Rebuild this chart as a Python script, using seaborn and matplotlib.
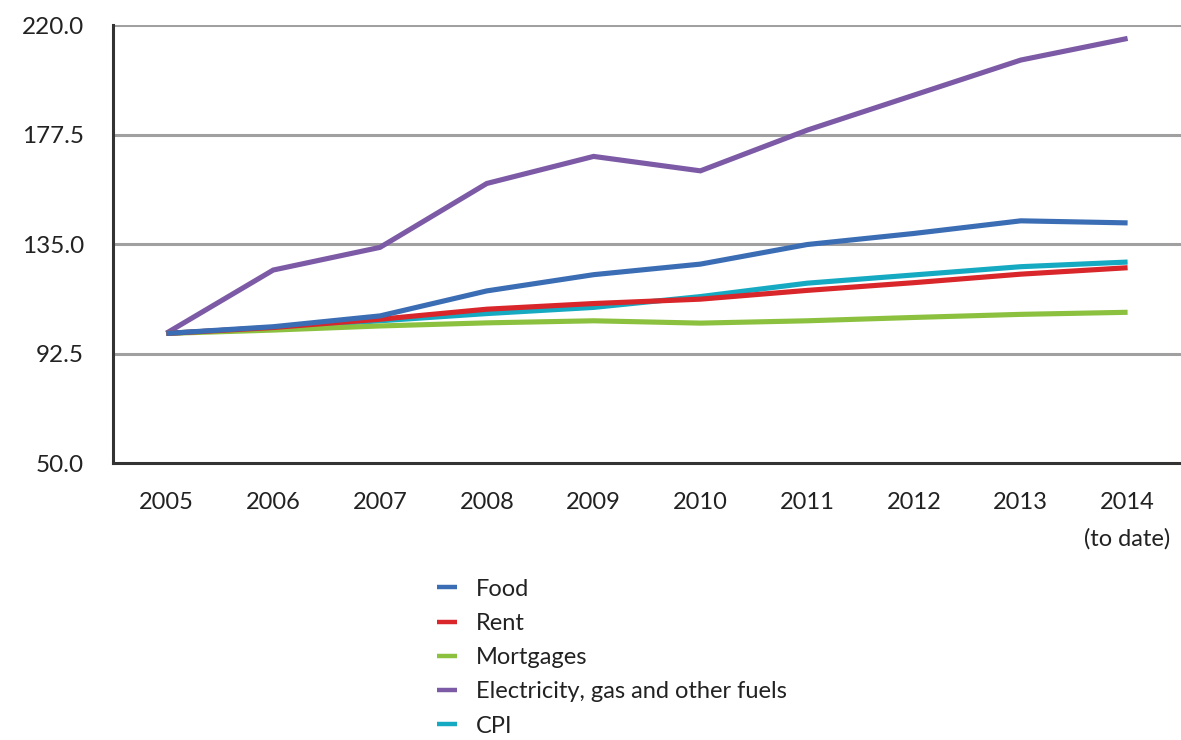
import numpy as np
import pandas as pd
import matplotlib
matplotlib.use("Agg")
import matplotlib.pyplot as plt
import seaborn as sns

# Index values by year (2005 = 100)
years = ["2005", "2006", "2007", "2008", "2009", "2010", "2011", "2012", "2013", "2014\n(to date)"]
food = [100.3, 102.9, 107.1, 116.8, 123.1, 127.2, 134.8, 139.1, 144.0, 143.2]
rent = [100.3, 102.6, 105.8, 109.7, 111.9, 113.6, 117.0, 120.0, 123.3, 125.8]
mortgages = [100.3, 101.6, 103.2, 104.4, 105.2, 104.3, 105.2, 106.5, 107.7, 108.5]
electricity = [100.4, 124.9, 133.7, 158.5, 169.0, 163.4, 179.2, 192.8, 206.4, 214.8]
cpi = [100.3, 102.5, 105.2, 108.0, 110.4, 114.6, 119.8, 123.0, 126.2, 128.0]

series_names = ["Food", "Rent", "Mortgages", "Electricity, gas and other fuels", "CPI"]
series_values = [food, rent, mortgages, electricity, cpi]
colors = ["#3B6DB5", "#D8262B", "#8CC13F", "#7D5AA6", "#16A9C2"]

y_ticks = [50.0, 92.5, 135.0, 177.5, 220.0]

rows = []
for name, vals in zip(series_names, series_values):
    for i, v in enumerate(vals):
        rows.append({"pos": i, "series": name, "value": v})
df = pd.DataFrame(rows)

sns.set_theme(style="white")
plt.rcParams["font.family"] = ["Lato", "DejaVu Sans"]

fig = plt.figure(figsize=(11.81, 7.40), dpi=100)
ax = fig.add_axes([0.0957, 0.3743, 0.9043, 0.5919])

sns.lineplot(data=df, x="pos", y="value", hue="series", hue_order=series_names,
             palette=colors, linewidth=3.7, legend=False, ax=ax,
             solid_capstyle="butt", solid_joinstyle="miter")

lines = ax.lines[:len(series_names)]
# Food drawn on top, CPI underneath
for k, ln in enumerate(lines):
    ln.set_zorder(10 - k)

ax.set_xlim(-0.5, len(years) - 0.5)
ax.set_ylim(50, 220)
ax.set_yticks(y_ticks)
ax.set_yticklabels([f"{t:.1f}" for t in y_ticks])
ax.set_xticks(np.arange(len(years)))
ax.set_xticklabels(years, linespacing=1.85, va="top")
ax.set_xticks(np.arange(-0.5, len(years) - 0.4, 1.0), minor=True)

ax.tick_params(axis="x", which="major", length=0, pad=21, labelsize=17, colors="#222222")
ax.tick_params(axis="x", which="minor", length=7, width=2, color="#333333", direction="out")
ax.tick_params(axis="y", which="major", length=7, width=2, color="#333333", direction="out",
               pad=14, labelsize=17.5, labelcolor="#222222")

for t in y_ticks[1:]:
    ax.axhline(t, color="#A0A0A0", linewidth=2.2, zorder=1)

for side in ["top", "right"]:
    ax.spines[side].set_visible(False)
for side in ["left", "bottom"]:
    ax.spines[side].set_color("#333333")
    ax.spines[side].set_linewidth(2.2)
ax.set_xlabel("")
ax.set_ylabel("")

leg = fig.legend(lines, series_names, loc="upper left", bbox_to_anchor=(0.37, 0.218),
                 frameon=False, fontsize=17, handlelength=0.85, handletextpad=0.8,
                 labelspacing=0.56, borderpad=0, borderaxespad=0)
for h in leg.get_lines():
    h.set_linewidth(3.2)
for t in leg.get_texts():
    t.set_color("#222222")

fig.savefig("out.png", dpi=100)
